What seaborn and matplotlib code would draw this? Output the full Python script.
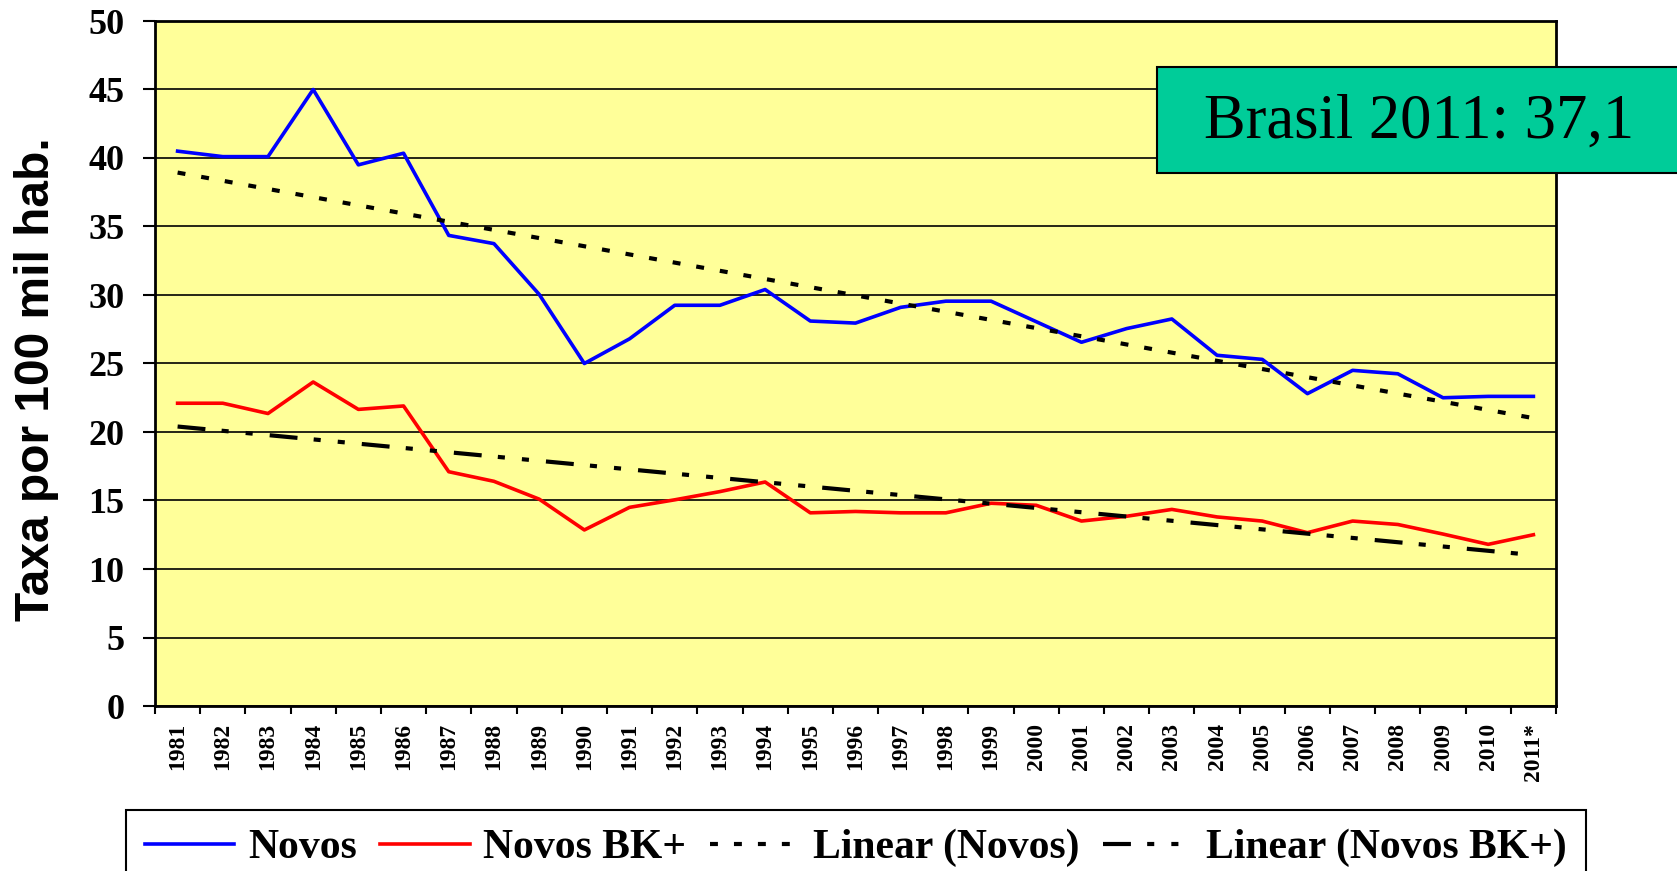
import numpy as np
import pandas as pd
import matplotlib
matplotlib.use("Agg")
import matplotlib.pyplot as plt
import seaborn as sns
from matplotlib.patches import Rectangle

years = ["1981", "1982", "1983", "1984", "1985", "1986", "1987", "1988", "1989", "1990",
         "1991", "1992", "1993", "1994", "1995", "1996", "1997", "1998", "1999", "2000",
         "2001", "2002", "2003", "2004", "2005", "2006", "2007", "2008", "2009", "2010", "2011*"]
novos = [40.5, 40.1, 40.1, 45.0, 39.5, 40.35, 34.35, 33.75, 30.05, 25.0,
         26.8, 29.25, 29.25, 30.4, 28.1, 27.95, 29.1, 29.55, 29.55, 28.05,
         26.55, 27.55, 28.25, 25.6, 25.3, 22.8, 24.5, 24.25, 22.5, 22.6, 22.6]
novos_bk = [22.1, 22.1, 21.35, 23.65, 21.65, 21.9, 17.1, 16.4, 15.1, 12.85,
            14.5, 15.05, 15.65, 16.35, 14.1, 14.2, 14.1, 14.1, 14.8, 14.65,
            13.5, 13.85, 14.35, 13.8, 13.5, 12.65, 13.5, 13.25, 12.55, 11.8, 12.5]
y_ticks = [0, 5, 10, 15, 20, 25, 30, 35, 40, 45, 50]

df = pd.DataFrame({"pos": np.arange(len(years)), "ano": years,
                   "novos": novos, "bk": novos_bk})

W, H = 1677, 871
fig = plt.figure(figsize=(W / 100, H / 100), dpi=100)
ax = fig.add_axes([155 / W, 1 - 706 / H, 1401 / W, 685 / H])
ax.set_facecolor("#FFFF99")

serif = "Liberation Serif"

sns.lineplot(data=df, x="pos", y="novos", color="#0000FF", lw=2.6, ax=ax, label="Novos")
sns.lineplot(data=df, x="pos", y="bk", color="#FF0000", lw=2.6, ax=ax, label="Novos BK+")
sns.regplot(data=df, x="pos", y="novos", scatter=False, ci=None, ax=ax, label="Linear (Novos)",
            line_kws=dict(color="black", lw=3.0, linestyle=(0, (1.9, 3.85))))
sns.regplot(data=df, x="pos", y="bk", scatter=False, ci=None, ax=ax, label="Linear (Novos BK+)",
            line_kws=dict(color="black", lw=3.0,
                          linestyle=(0, (6.7, 3.9, 1.7, 4.1, 1.7, 4.1))))

ax.set_xlim(-0.5, len(years) - 0.5)
ax.set_ylim(0, 50)
ax.set_xlabel("")
ax.set_ylabel("")

ax.yaxis.grid(True, color="black", lw=1.2)
ax.set_axisbelow(True)

ax.set_xticks(np.arange(-0.5, len(years), 1.0))
ax.set_xticklabels([])
ax.set_xticks(np.arange(len(years)), minor=True)
ax.set_xticklabels(years, minor=True, rotation=90)
ax.tick_params(axis="x", which="major", length=6, width=1.5, color="black")
ax.tick_params(axis="x", which="minor", length=0, pad=12, labelsize=17)
for t in ax.get_xticklabels(minor=True):
    t.set_fontfamily(serif)
    t.set_fontweight("bold")
    t.set_fontsize(17)

ax.set_yticks(y_ticks)
ax.set_yticklabels([str(v) for v in y_ticks], fontfamily=serif, fontweight="bold", fontsize=26)
ax.tick_params(axis="y", length=9, width=1.5, pad=13, color="black")

for s in ax.spines.values():
    s.set_color("black")
    s.set_linewidth(2)

leg = ax.get_legend()
if leg is not None:
    leg.remove()
handles, labels = ax.get_legend_handles_labels()
lg = fig.legend(handles, labels, loc="upper left", bbox_to_anchor=(126 / W, 1 - 810 / H),
                ncol=4, prop=dict(family=serif, weight="bold", size=30), frameon=True,
                fancybox=False, edgecolor="black", framealpha=1, handlelength=2.15,
                handletextpad=0.33, columnspacing=0.56, borderpad=0.45, borderaxespad=0)
lg.get_frame().set_linewidth(1.5)

fig.text(37 / W, 1 - 379 / H, "Taxa por 100 mil hab.", rotation=90, fontsize=34.5,
         fontweight="bold", family="Liberation Sans", ha="center", va="center")

fig.add_artist(Rectangle((1157 / W, 1 - 173 / H), 0.35, 106 / H, transform=fig.transFigure,
                         facecolor="#00CC99", edgecolor="black", lw=1.5, zorder=5))
fig.text(1419 / W, 1 - 123 / H, "Brasil 2011: 37,1", fontsize=45, family=serif,
         ha="center", va="center", zorder=6)

fig.savefig("out.png", dpi=100)
